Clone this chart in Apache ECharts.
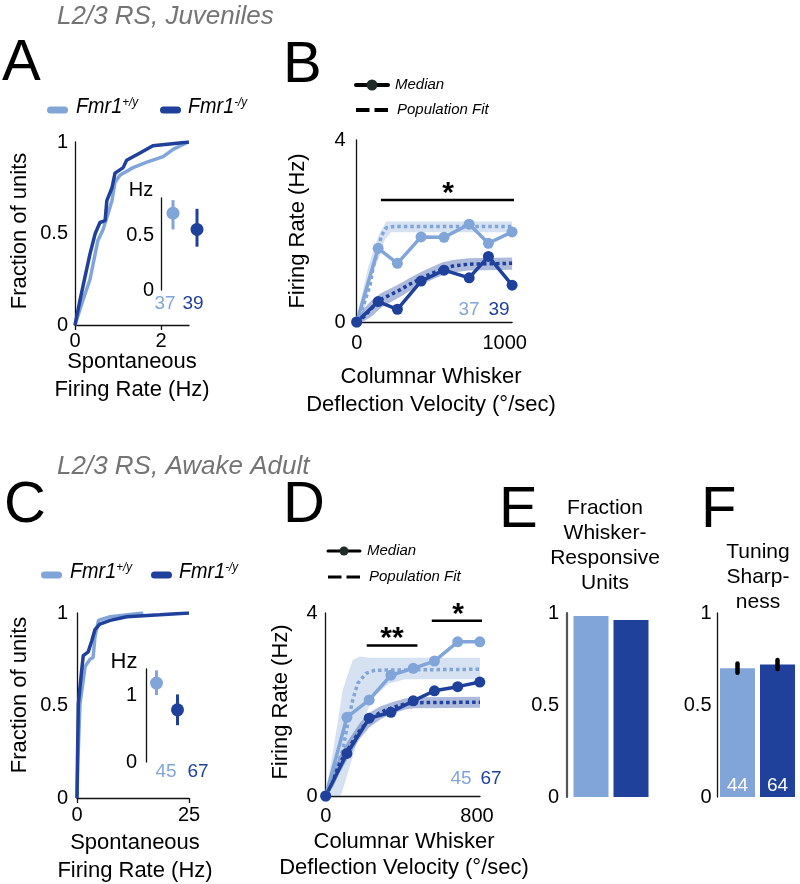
<!DOCTYPE html>
<html><head><meta charset="utf-8">
<script src="https://cdn.jsdelivr.net/npm/echarts@6/dist/echarts.min.js"></script>
<style>html,body{margin:0;padding:0;background:#fff}#c{width:800px;height:884px}</style>
</head><body><div id="c"></div>
<script>
const LIGHT = '#82a5d9', DARK = '#1f419b';
const FONT = '"Liberation Sans", Arial, Helvetica, sans-serif';

// ---- Panel A: juvenile spontaneous firing CDF ----
const aLightCdf = [[0,0],[0.19,0.14],[0.35,0.25],[0.47,0.39],[0.53,0.46],[0.65,0.52],[0.77,0.61],[0.86,0.68],[0.93,0.78],[1.05,0.82],[1.35,0.86],[1.67,0.89],[2.05,0.92],[2.28,0.96],[2.63,1.0]];
const aDarkCdf = [[0,0],[0.12,0.14],[0.23,0.26],[0.35,0.39],[0.47,0.5],[0.58,0.56],[0.7,0.57],[0.74,0.68],[0.86,0.75],[0.93,0.83],[1.12,0.86],[1.2,0.9],[1.51,0.94],[1.81,0.98],[2.65,1.0]];
const aInsetMean = [0.71, 0.56];
const aInsetLo = [0.56, 0.40];
const aInsetHi = [0.83, 0.75];
const aCounts = ['37', '39'];

// ---- Panel B: juvenile velocity tuning ----
const bVel = [0, 145, 275, 435, 590, 760, 890, 1050];
const bLightMed = [0, 1.62, 1.29, 1.87, 1.86, 2.15, 1.73, 1.98];
const bDarkMed = [0, 0.45, 0.28, 0.90, 1.14, 0.97, 1.44, 0.81];
const bLightFit = [[0,0],[15,0.14],[45,0.36],[90,0.8],[113,1.23],[146,1.6],[166,1.89],[199,2.07],[250,2.1],[1050,2.1]];
const bLightBandHi = [[0,0.07],[79,1.23],[146,1.89],[199,2.21],[1050,2.21]];
const bLightBandLo = [[0,0],[33,0],[99,1.0],[146,1.38],[190,1.81],[232,1.97],[1050,1.97]];
const bDarkFit = [[0,0],[50,0.12],[100,0.3],[166,0.5],[278,0.68],[364,0.84],[424,0.94],[500,1.06],[576,1.16],[650,1.23],[755,1.27],[1050,1.29]];
const bDarkBandHi = [[0,0.05],[50,0.3],[100,0.47],[166,0.64],[278,0.82],[364,0.98],[424,1.08],[500,1.2],[576,1.31],[650,1.36],[755,1.4],[1050,1.42]];
const bDarkBandLo = [[0,0],[50,0.02],[100,0.12],[166,0.32],[278,0.52],[364,0.69],[424,0.8],[500,0.92],[576,1.02],[650,1.09],[755,1.13],[1050,1.15]];
const bSigBar = [[164,2.68],[1075,2.68]];
const bCounts = ['37', '39'];

// ---- Panel C: adult spontaneous firing CDF ----
const cLightCdf = [[0,0],[0.2,0.2],[0.67,0.51],[1.8,0.71],[2.9,0.75],[3.6,0.76],[4.0,0.87],[4.8,0.96],[7.4,0.98],[14.8,1.0]];
const cDarkCdf = [[0,0],[0.1,0.2],[0.3,0.51],[1.04,0.69],[1.4,0.77],[2.5,0.79],[3.3,0.85],[4.0,0.91],[5.1,0.94],[7.4,0.96],[11.1,0.98],[18.5,0.99],[25,1.0]];
const cInsetMean = [1.18, 0.78];
const cInsetLo = [1.0, 0.55];
const cInsetHi = [1.37, 1.01];
const cCounts = ['45', '67'];

// ---- Panel D: adult velocity tuning ----
const dVel = [0, 112, 230, 345, 463, 575, 698, 815];
const dLightMed = [0, 1.72, 2.10, 2.64, 2.79, 2.95, 3.37, 3.37];
const dDarkMed = [0, 0.93, 1.70, 1.83, 2.08, 2.30, 2.39, 2.49];
const dLightFit = [[0,0],[10,0.15],[50,0.55],[90,1.0],[117,1.59],[143,2.1],[169,2.46],[213,2.68],[260,2.75],[816,2.77]];
const dLightBandHi = [[0,0.1],[40,1.0],[90,2.32],[143,2.97],[180,3.05],[230,3.02],[816,3.02]];
const dLightBandLo = [[0,0],[80,0],[143,0.86],[195,1.59],[247,2.14],[335,2.46],[420,2.55],[816,2.55]];
const dDarkFit = [[0,0],[40,0.38],[73,0.7],[117,1.02],[178,1.42],[230,1.67],[290,1.83],[351,1.93],[420,2.01],[466,2.04],[816,2.05]];
const dDarkBandHi = [[0,0.1],[40,0.55],[73,0.88],[117,1.2],[178,1.58],[230,1.82],[290,1.96],[351,2.05],[420,2.13],[466,2.16],[816,2.17]];
const dDarkBandLo = [[0,0],[40,0.2],[73,0.5],[117,0.82],[178,1.24],[230,1.5],[290,1.68],[351,1.8],[420,1.89],[466,1.92],[816,1.93]];
const dSigBar1 = [[217,3.29],[485,3.29]];
const dSigBar2 = [[561,3.83],[834,3.83]];
const dCounts = ['45', '67'];

// ---- Panels E, F ----
const eFraction = [0.984, 0.962];
const fSharp = [0.70, 0.72];
const fSharpErr = [0.025, 0.025];
const fCounts = ['44', '64'];

const genoColors = [LIGHT, DARK];

// ---------- helpers ----------
function near(list, v){ return list.some(l => Math.abs(l - v) < 1e-6); }
function valAxis(gridIndex, min, max, labels, o) {
  o = o || {};
  return {
    type: 'value', gridIndex, min, max,
    interval: o.interval,
    axisLine: {show: o.line !== false, onZero: false, lineStyle: {color: o.lineColor || '#111', width: o.lineWidth || 1.3}},
    axisTick: {show: !!o.tick, length: 5, inside: false, customValues: labels, lineStyle: {color: '#111', width: 1.3}},
    axisLabel: {show: o.label !== false, customValues: labels, margin: o.margin || 6, color: '#000', fontSize: 20, fontFamily: FONT,
      formatter: v => near(labels, v) ? String(v) : ''},
    splitLine: {show: false},
    offset: o.offset || 0
  };
}
function catAxis(gridIndex) {
  return {type: 'category', gridIndex, data: ['+/y', '-/y'], show: false, boundaryGap: true};
}
function line(xi, data, color, width, extra) {
  return Object.assign({type: 'line', xAxisIndex: xi, yAxisIndex: xi, data, showSymbol: false, symbol: 'none',
    lineStyle: {color, width}, itemStyle: {color}, silent: true, animation: false, z: 3}, extra || {});
}
function band(xi, hi, lo, fill) {
  return {type: 'custom', xAxisIndex: xi, yAxisIndex: xi, data: [[hi[0][0], hi[0][1]]], silent: true, animation: false, z: 1,
    clip: false,
    renderItem: (p, api) => {
      const pts = [];
      hi.forEach(d => pts.push(api.coord(d)));
      lo.slice().reverse().forEach(d => pts.push(api.coord(d)));
      return {type: 'polygon', shape: {points: pts}, style: {fill}};
    }};
}
function insetErr(xi, mean, lo, hi) {
  return {type: 'custom', xAxisIndex: xi, yAxisIndex: xi, silent: true, animation: false, clip: false,
    encode: {x: 0, y: 1},
    data: mean.map((m, i) => [i, m, lo[i], hi[i]]),
    renderItem: (p, api) => {
      const i = p.dataIndex, c = genoColors[i];
      const a = api.coord([i, api.value(3)]), b = api.coord([i, api.value(2)]), m = api.coord([i, api.value(1)]);
      return {type: 'group', children: [
        {type: 'line', shape: {x1: a[0], y1: a[1], x2: b[0], y2: b[1]}, style: {stroke: c, lineWidth: 3}},
        {type: 'circle', shape: {cx: m[0], cy: m[1], r: 6.5}, style: {fill: c}}
      ]};
    }};
}
function medianSeries(xi, xs, ys, color) {
  return line(xi, xs.map((x, i) => [x, ys[i]]), color, 3.5, {showSymbol: true, symbol: 'circle', symbolSize: 11, z: 5});
}
function fitSeries(xi, data, color) {
  return line(xi, data, color, 3.5, {lineStyle: {color, width: 3.5, type: [3.5, 3]}, z: 4});
}
function sigBar(xi, data) {
  return line(xi, data, '#000', 2.5, {clip: false, z: 6});
}

// ---------- text helpers ----------
function T(x, y, text, o) {
  o = o || {};
  return {type: 'text', x, y, rotation: o.rot || 0, scaleX: o.sx || 1, silent: true, z: 20,
    style: {text, fill: o.color || '#000', fontSize: o.size || 22, fontFamily: FONT,
      fontStyle: o.italic ? 'italic' : 'normal', fontWeight: o.bold ? 'bold' : 'normal',
      textAlign: o.align || 'center', textVerticalAlign: 'middle', verticalAlign: 'middle',
      lineHeight: o.lh, rich: o.rich}};
}
function L(x1, y1, x2, y2, color, w, dash) {
  return {type: 'line', silent: true, z: 20, shape: {x1, y1, x2, y2},
    style: {stroke: color, lineWidth: w, lineCap: dash ? 'butt' : 'round', lineDash: dash || null}};
}
function C(cx, cy, r, color) {
  return {type: 'circle', silent: true, z: 21, shape: {cx, cy, r}, style: {fill: color}};
}
const fmrRich = {
  m: {fontSize: 22, fontStyle: 'italic', fontFamily: FONT, fill: '#000', color: '#000'},
  s: {fontSize: 13, fontStyle: 'italic', fontFamily: FONT, fill: '#000', color: '#000', verticalAlign: 'top'}
};
function genoLegend(x0, y, gap) {
  return [
    L(x0 + 3.5, y, x0 + 17.5, y, LIGHT, 7),
    T(x0 + 29, y - 3, '{m|Fmr1}{s|+/y}', {align: 'left', rich: fmrRich, sx: 0.9}),
    L(x0 + gap + 3.5, y, x0 + gap + 17.5, y, DARK, 7),
    T(x0 + gap + 28, y - 3, '{m|Fmr1}{s|-/y}', {align: 'left', rich: fmrRich, sx: 0.9})
  ];
}
function lineLegend(x1, x2, y1, y2, w, tx) {
  const mid = (x1 + x2) / 2, h = (x2 - x1 - 5) / 2;
  return [
    L(x1, y1, x2, y1, '#000', w), C(mid, y1, w + 1.5, '#1e2b26'),
    T(tx, y1, 'Median', {align: 'left', italic: true, size: 15}),
    L(x1, y2, x1 + h, y2, '#000', w, [100, 0]), L(x2 - h, y2, x2, y2, '#000', w, [100, 0]),
    T(tx + 2, y2, 'Population Fit', {align: 'left', italic: true, size: 15})
  ];
}

const grids = [
  {left: 75, top: 142, width: 114, height: 183},
  {left: 161, top: 198, width: 48, height: 92},
  {left: 356.7, top: 140, width: 155.4, height: 182},
  {left: 77, top: 613, width: 112, height: 185},
  {left: 146, top: 669, width: 42, height: 93},
  {left: 325.7, top: 613, width: 154.3, height: 183},
  {left: 571, top: 613, width: 80, height: 184},
  {left: 717.5, top: 613, width: 80, height: 184}
].map(g => Object.assign({outerBoundsMode: 'none', containLabel: false}, g));

const xAxis = [
  valAxis(0, 0, 2.65, [0, 2], {interval: 2, tick: true, margin: 6}),
  catAxis(1),
  valAxis(2, 0, 1050, [0, 1000], {interval: 1000, margin: 11}),
  valAxis(3, 0, 25, [0, 25], {interval: 25, tick: true, margin: 7}),
  catAxis(4),
  valAxis(5, 0, 816, [0, 800], {interval: 800, margin: 10}),
  catAxis(6),
  catAxis(7)
];
const yAxis = [
  valAxis(0, 0, 1, [0, 0.5, 1], {interval: 0.5, margin: 7}),
  valAxis(1, 0, 0.85, [0, 0.5], {interval: 0.5, margin: 7}),
  valAxis(2, 0, 4, [0, 4], {interval: 4, margin: 11}),
  valAxis(3, 0, 1, [0, 0.5, 1], {interval: 0.5, margin: 9}),
  valAxis(4, 0, 1.39, [0, 1], {interval: 1, margin: 9}),
  valAxis(5, 0, 4, [0, 4], {interval: 4, margin: 8}),
  valAxis(6, 0, 1, [0, 0.5, 1], {interval: 0.5, margin: 8, offset: 4, lineColor: '#555', lineWidth: 2.2}),
  valAxis(7, 0, 1, [0, 0.5, 1], {interval: 0.5, margin: 6})
];

const series = [
  // A
  line(0, aLightCdf, LIGHT, 3.5),
  line(0, aDarkCdf, DARK, 3.5),
  insetErr(1, aInsetMean, aInsetLo, aInsetHi),
  // B
  band(2, bLightBandHi, bLightBandLo, 'rgba(130,165,217,0.33)'),
  band(2, bDarkBandHi, bDarkBandLo, 'rgba(31,65,155,0.36)'),
  fitSeries(2, bLightFit, LIGHT),
  fitSeries(2, bDarkFit, DARK),
  medianSeries(2, bVel, bLightMed, LIGHT),
  medianSeries(2, bVel, bDarkMed, DARK),
  sigBar(2, bSigBar),
  // C
  line(3, cLightCdf, LIGHT, 3.5),
  line(3, cDarkCdf, DARK, 3.5),
  insetErr(4, cInsetMean, cInsetLo, cInsetHi),
  // D
  band(5, dLightBandHi, dLightBandLo, 'rgba(130,165,217,0.33)'),
  band(5, dDarkBandHi, dDarkBandLo, 'rgba(31,65,155,0.36)'),
  fitSeries(5, dLightFit, LIGHT),
  fitSeries(5, dDarkFit, DARK),
  medianSeries(5, dVel, dLightMed, LIGHT),
  medianSeries(5, dVel, dDarkMed, DARK),
  sigBar(5, dSigBar1),
  sigBar(5, dSigBar2),
  // E
  {type: 'bar', xAxisIndex: 6, yAxisIndex: 6, barWidth: 35, silent: true, animation: false,
    data: eFraction.map((v, i) => ({value: v, itemStyle: {color: genoColors[i]}}))},
  // F
  {type: 'bar', xAxisIndex: 7, yAxisIndex: 7, barWidth: 35, silent: true, animation: false,
    data: fSharp.map((v, i) => ({value: v, itemStyle: {color: genoColors[i]}})),
    label: {show: true, position: 'insideBottom', distance: 2, color: '#fff', fontSize: 19, fontFamily: FONT,
      formatter: p => fCounts[p.dataIndex]}},
  {type: 'custom', xAxisIndex: 7, yAxisIndex: 7, silent: true, animation: false, encode: {x: 0, y: 1}, z: 5,
    data: fSharp.map((v, i) => [i, v + fSharpErr[i], v - fSharpErr[i]]),
    renderItem: (p, api) => {
      const a = api.coord([p.dataIndex, api.value(1)]), b = api.coord([p.dataIndex, api.value(2)]);
      return {type: 'line', shape: {x1: a[0], y1: a[1], x2: b[0], y2: b[1]}, style: {stroke: '#000', lineWidth: 4.5, lineCap: 'round'}};
    }}
];

const graphic = [
  // titles
  T(57, 17, 'L2/3 RS, Juveniles', {align: 'left', italic: true, size: 26, color: '#747474'}),
  T(57, 467, 'L2/3 RS, Awake Adult', {align: 'left', italic: true, size: 26, color: '#747474'}),
  // letters
  T(2, 64, 'A', {align: 'left', size: 58}),
  T(283, 66, 'B', {align: 'left', size: 58}),
  T(4, 506, 'C', {align: 'left', size: 58}),
  T(283, 506, 'D', {align: 'left', size: 58}),
  T(499, 511, 'E', {align: 'left', size: 58}),
  T(701, 511, 'F', {align: 'left', size: 58}),
  // legends
  ...genoLegend(47, 110, 113),
  ...genoLegend(41, 575, 110),
  ...lineLegend(356, 388, 85, 110, 4, 395),
  ...lineLegend(328, 360, 551, 577, 3, 367),
  // axis titles
  T(20, 231, 'Fraction of units', {rot: Math.PI / 2, size: 22}),
  T(20, 695, 'Fraction of units', {rot: Math.PI / 2, size: 22}),
  T(298, 231, 'Firing Rate (Hz)', {rot: Math.PI / 2, size: 22}),
  T(281, 702, 'Firing Rate (Hz)', {rot: Math.PI / 2, size: 22}),
  T(132, 376, 'Spontaneous\nFiring Rate (Hz)', {size: 22, lh: 28}),
  T(135, 857, 'Spontaneous\nFiring Rate (Hz)', {size: 22, lh: 28}),
  T(431, 391, 'Columnar Whisker\nDeflection Velocity (°/sec)', {size: 22, lh: 28}),
  T(404, 855, 'Columnar Whisker\nDeflection Velocity (°/sec)', {size: 22, lh: 26}),
  T(605, 546, 'Fraction\nWhisker-\nResponsive\nUnits', {size: 21, lh: 25}),
  T(758, 577, 'Tuning\nSharp-\nness', {size: 21, lh: 25}),
  // inset units
  T(141, 190, 'Hz', {size: 20}),
  T(124, 662, 'Hz', {size: 22}),
  // counts
  T(165, 304, aCounts[0], {size: 19, color: LIGHT}),
  T(193, 304, aCounts[1], {size: 19, color: DARK}),
  T(469, 310, bCounts[0], {size: 19, color: LIGHT}),
  T(499, 310, bCounts[1], {size: 19, color: DARK}),
  T(166, 772, cCounts[0], {size: 19, color: LIGHT}),
  T(198, 772, cCounts[1], {size: 19, color: DARK}),
  T(461, 779, dCounts[0], {size: 19, color: LIGHT}),
  T(491, 779, dCounts[1], {size: 19, color: DARK}),
  // significance stars
  T(448, 194, '*', {size: 30, bold: true}),
  T(392, 639, '**', {size: 30, bold: true}),
  T(458, 615, '*', {size: 30, bold: true})
];

const chart = echarts.init(document.getElementById('c'), null, {renderer: 'canvas'});
chart.setOption({animation: false, backgroundColor: '#fff', grid: grids, xAxis, yAxis, series, graphic});
</script></body></html>
